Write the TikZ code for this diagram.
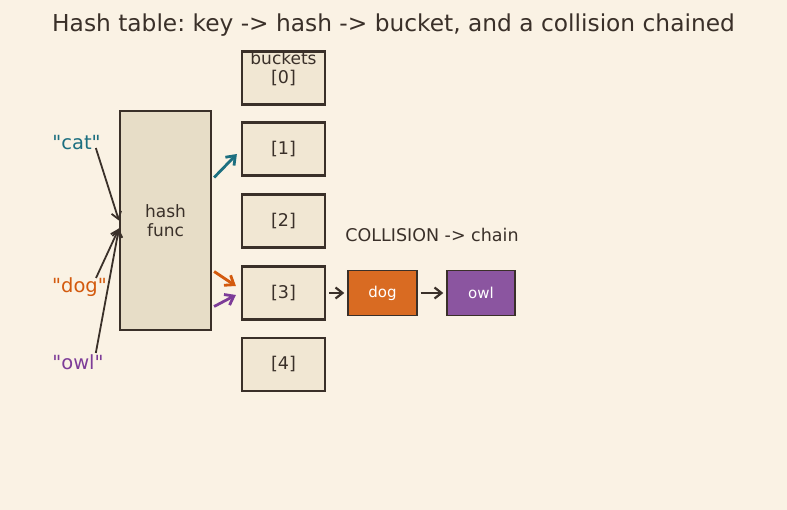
\documentclass[tikz,border=0pt]{standalone}
\usepackage{fontspec}
\setmainfont{DejaVu Sans}
\newfontfamily\plainfont{DejaVu Sans}
\usetikzlibrary{arrows.meta,calc}
\frenchspacing
\definecolor{bg}{HTML}{FAF2E4}
\definecolor{ink}{HTML}{3A3029}
\definecolor{hashfill}{HTML}{E7DDC7}
\definecolor{bucketfill}{HTML}{F1E7D3}
\definecolor{teal}{HTML}{1C6F80}
\definecolor{orng}{HTML}{D35A0E}
\definecolor{purp}{HTML}{7D3C98}
\definecolor{dogfill}{HTML}{D96B22}
\definecolor{owlfill}{HTML}{8B55A0}
\tikzset{
  bucketbox/.style={draw=ink, line width=2.2pt, fill=bucketfill, minimum width=83pt, minimum height=53pt, inner sep=0pt, text=ink, font=\fontsize{17.5}{20}\selectfont},
  hashbox/.style={draw=ink, line width=2.2pt, fill=hashfill, minimum width=91pt, minimum height=219pt, inner sep=0pt, text=ink, align=center, font=\fontsize{17}{19}\selectfont},
  chainbox/.style={draw=ink, line width=1.4pt, minimum width=69pt, minimum height=45pt, inner sep=0pt, text=white, font=\fontsize{15}{18}\selectfont},
  keylabel/.style={font=\plainfont\fontsize{19.5}{22}\selectfont, inner sep=0pt},
  keyarr/.style={draw=ink, line width=1.8pt, -{Straight Barb[length=7pt,width=10pt,line width=1.8pt]}},
  colarr/.style={line width=2.8pt, -{Straight Barb[length=8pt,width=12pt,line width=2.8pt]}},
  chainarr/.style={draw=ink, line width=2.2pt, -{Straight Barb[length=7pt,width=11pt,line width=2.2pt]}},
}
\begin{document}
\begin{tikzpicture}[x=1pt,y=-1pt]
\fill[bg] (0,0) rectangle (787,510);
\useasboundingbox (0,0) rectangle (787,510);
\node[text=ink, font=\fontsize{23.3}{26}\selectfont] (title) at (393.5,25) {Hash table: key -> hash -> bucket, and a collision chained};

\node[hashbox] (hash) at (165.5,220.5) {hash\\func};

\node[bucketbox] (b0) at (283.5,78) {[0]};
\node[bucketbox] (b1) at (283.5,149) {[1]};
\node[bucketbox] (b2) at (283.5,221) {[2]};
\node[bucketbox] (b3) at (283.5,293) {[3]};
\node[bucketbox] (b4) at (283.5,364.5) {[4]};
\node[text=ink, font=\fontsize{17}{20}\selectfont, inner sep=0pt] (blabel) at (283.5,58) {buckets};

\node[keylabel, text=teal] (cat) at (76.5,143) {"cat"};
\node[keylabel, text=orng] (dog) at (79.5,287) {"dog"};
\node[keylabel, text=purp] (owl) at (78,362) {"owl"};

\node[text=ink, font=\fontsize{17.5}{20}\selectfont, inner sep=0pt] (coll) at (432,235) {COLLISION -> chain};

\node[chainbox, fill=dogfill] (cdog) at (382.5,293) {dog};
\node[chainbox, fill=owlfill, minimum width=68pt] (cowl) at (481,293) {owl};

\draw[keyarr] ($(cat.east)+(-5,5)$) -- ($(hash.west)+(0,0)$);
\draw[keyarr] ($(dog.east)+(-11,-9)$) -- ($(hash.west)+(0,8)$);
\draw[keyarr] ($(owl.east)+(-8,-9)$) -- ($(hash.west)+(0,8)$);

\draw[colarr, teal] ($(hash.east)+(2,-43)$) -- ($(b1.west)+(-4,5)$);
\draw[colarr, orng] ($(hash.east)+(2,51)$) -- ($(b3.west)+(-5,-7)$);
\draw[colarr, purp] ($(hash.east)+(2,86)$) -- ($(b3.west)+(-5,2)$);

\draw[chainarr] ($(b3.east)+(3,0)$) -- ($(cdog.west)+(-3,0)$);
\draw[chainarr] ($(cdog.east)+(3,0)$) -- ($(cowl.west)+(-3,0)$);
\end{tikzpicture}
\end{document}
